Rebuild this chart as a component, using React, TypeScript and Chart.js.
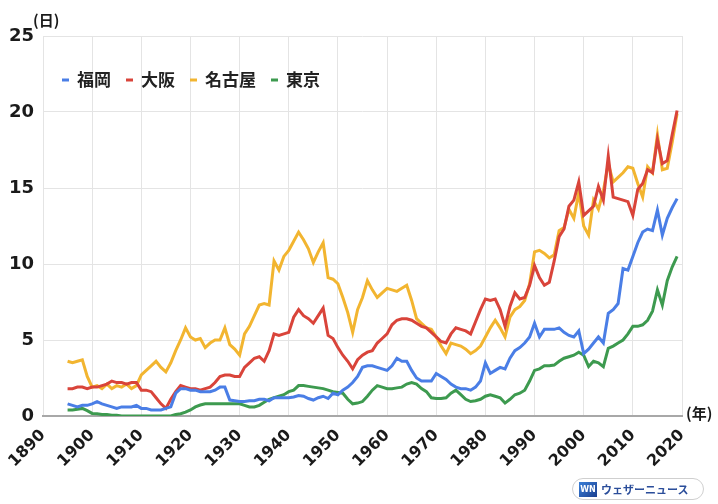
import React, { useEffect, useRef } from "react";
import { Chart, registerables } from "chart.js";

Chart.register(...registerables);

const FIRST_YEAR = 1895;
const X_TICKS = [1890, 1900, 1910, 1920, 1930, 1940, 1950, 1960, 1970, 1980, 1990, 2000, 2010, 2020];
const Y_TICKS = [0, 5, 10, 15, 20, 25];
const CITY_LABELS = ["福岡", "大阪", "名古屋", "東京"];

// 1895 .. 2019
const FUKUOKA = [
  0.8, 0.7, 0.6, 0.7, 0.7,
  0.8, 0.95, 0.8, 0.7, 0.6, 0.5, 0.6, 0.6, 0.6, 0.7,
  0.5, 0.5, 0.4, 0.4, 0.4, 0.5, 0.6, 1.5, 1.8, 1.8,
  1.7, 1.7, 1.6, 1.6, 1.6, 1.7, 1.9, 1.9, 1.05, 1.0,
  0.95, 0.95, 1.0, 1.0, 1.1, 1.1, 1.0, 1.2, 1.2, 1.2,
  1.2, 1.25, 1.35, 1.3, 1.15, 1.05, 1.2, 1.3, 1.15, 1.5,
  1.4, 1.7, 1.9, 2.2, 2.6, 3.2, 3.3, 3.3, 3.2, 3.1,
  3.0, 3.3, 3.8, 3.6, 3.6, 3.0, 2.5, 2.3, 2.3, 2.3,
  2.8, 2.6, 2.4, 2.1, 1.9, 1.8, 1.8, 1.7, 1.9, 2.3,
  3.5, 2.8, 3.0, 3.2, 3.1, 3.8, 4.3, 4.5, 4.8, 5.2,
  6.1, 5.2, 5.7, 5.7, 5.7, 5.8, 5.5, 5.3, 5.2, 5.6,
  4.1, 4.4, 4.8, 5.2, 4.8, 6.75, 7.0, 7.4, 9.7, 9.6,
  10.5, 11.4, 12.1, 12.3, 12.2, 13.55, 11.9, 13.0, 13.7, 14.3,
];

const OSAKA = [
  1.8, 1.8, 1.9, 1.9, 1.8,
  1.9, 1.9, 2.0, 2.1, 2.3, 2.2, 2.2, 2.1, 2.2, 2.2,
  1.7, 1.7, 1.6, 1.2, 0.8, 0.5, 1.1, 1.6, 2.0, 1.9,
  1.8, 1.8, 1.7, 1.8, 1.9, 2.2, 2.6, 2.7, 2.7, 2.6,
  2.6, 3.2, 3.5, 3.8, 3.9, 3.6, 4.3, 5.4, 5.3, 5.4,
  5.5, 6.5, 7.0, 6.6, 6.4, 6.1, 6.6, 7.1, 5.3, 5.1,
  4.5, 4.0, 3.6, 3.1, 3.7, 4.0, 4.2, 4.3, 4.8, 5.1,
  5.4, 6.0, 6.3, 6.4, 6.4, 6.3, 6.1, 5.9, 5.8, 5.5,
  5.2, 4.9, 4.8, 5.4, 5.8, 5.7, 5.6, 5.4, 6.2, 7.0,
  7.7, 7.6, 7.7, 7.0, 5.9, 7.2, 8.1, 7.7, 7.8, 8.6,
  9.9, 9.1, 8.6, 8.8, 10.2, 11.8, 12.3, 13.8, 14.2, 15.4,
  13.2, 13.5, 13.8, 15.1, 14.2, 17.1, 14.4, 14.3, 14.2, 14.1,
  13.2, 14.9, 15.3, 16.2, 16.0, 18.2, 16.6, 16.8, 18.5, 20.1,
];

const NAGOYA = [
  3.6, 3.5, 3.6, 3.7, 2.6,
  1.9, 2.0, 1.8, 2.1, 1.8, 2.0, 1.9, 2.1, 1.8, 2.0,
  2.7, 3.0, 3.3, 3.6, 3.2, 2.9, 3.5, 4.3, 5.0, 5.8,
  5.2, 5.0, 5.1, 4.5, 4.8, 5.0, 5.0, 5.8, 4.7, 4.4,
  4.0, 5.4, 5.9, 6.6, 7.3, 7.4, 7.3, 10.2, 9.6, 10.5,
  10.9, 11.5, 12.1, 11.6, 11.0, 10.1, 10.8, 11.4, 9.1, 9.0,
  8.7, 7.8, 6.8, 5.5, 7.0, 7.8, 8.9, 8.3, 7.8, 8.1,
  8.4, 8.3, 8.2, 8.4, 8.6, 7.6, 6.4, 6.1, 5.8, 5.7,
  5.2, 4.6, 4.1, 4.8, 4.7, 4.6, 4.4, 4.1, 4.3, 4.6,
  5.2, 5.8, 6.3, 5.8, 5.2, 6.5, 7.0, 7.2, 7.6, 8.7,
  10.8, 10.9, 10.7, 10.4, 10.6, 12.2, 12.4, 13.6, 13.0, 14.7,
  12.5, 11.9, 14.2, 13.6, 14.8, 16.6, 15.4, 15.7, 16.0, 16.4,
  16.3, 15.3, 14.4, 16.4, 16.0, 18.5, 16.2, 16.3, 18.0, 19.9,
];

const TOKYO = [
  0.4, 0.4, 0.45, 0.5, 0.35,
  0.17, 0.15, 0.1, 0.1, 0.05, 0.05, 0.0, 0.0, 0.0, 0.0,
  0.0, 0.0, 0.0, 0.0, 0.0, 0.0, 0.0, 0.1, 0.15, 0.25,
  0.4, 0.6, 0.72, 0.8, 0.8, 0.8, 0.8, 0.8, 0.8, 0.8,
  0.8, 0.7, 0.6, 0.6, 0.7, 0.9, 1.1, 1.2, 1.3, 1.4,
  1.6, 1.7, 2.0, 2.0, 1.95, 1.9, 1.85, 1.8, 1.7, 1.6,
  1.55, 1.5, 1.1, 0.8, 0.85, 0.95, 1.3, 1.7, 2.0, 1.9,
  1.8, 1.8, 1.85, 1.9, 2.1, 2.2, 2.1, 1.8, 1.6, 1.2,
  1.15, 1.15, 1.2, 1.5, 1.7, 1.4, 1.1, 0.95, 1.0, 1.1,
  1.3, 1.4, 1.3, 1.2, 0.85, 1.1, 1.4, 1.5, 1.7, 2.3,
  3.0, 3.1, 3.3, 3.3, 3.35, 3.6, 3.8, 3.9, 4.0, 4.2,
  4.0, 3.25, 3.6, 3.5, 3.25, 4.45, 4.6, 4.8, 5.0, 5.4,
  5.9, 5.9, 6.0, 6.3, 6.9, 8.3, 7.3, 8.9, 9.8, 10.5,
];

const SERIES = [FUKUOKA, OSAKA, NAGOYA, TOKYO];
const COLORS = ["#4a7ee6", "#d9443a", "#f2b530", "#3d9a4f"];

const CJK = '"Noto Sans CJK JP", "Noto Sans", sans-serif';
const NUM = '"DejaVu Sans", sans-serif';

const extrasPlugin = {
  id: "extras",
  afterDraw(chart: any) {
    const ctx = chart.ctx as CanvasRenderingContext2D;
    ctx.save();
    ctx.fillStyle = "#1a1a1a";
    ctx.textBaseline = "middle";
    ctx.textAlign = "left";
    ctx.font = `bold 15px ${CJK}`;
    ctx.fillText("(日)", 33, 20);
    ctx.fillText("(年)", 686, 413);

    let x = 62;
    const y = 80;
    ctx.font = `bold 17px ${CJK}`;
    chart.data.datasets.forEach((ds: any) => {
      ctx.strokeStyle = ds.borderColor;
      ctx.lineWidth = 3;
      ctx.beginPath();
      ctx.moveTo(x, y);
      ctx.lineTo(x + 7, y);
      ctx.stroke();
      x += 15;
      ctx.fillStyle = "#222";
      ctx.fillText(ds.label, x, y);
      x += ctx.measureText(ds.label).width + 15;
    });
    ctx.restore();
  },
};

export default function App() {
  const ref = useRef<HTMLCanvasElement | null>(null);

  useEffect(() => {
    if (!ref.current) return;
    const datasets = SERIES.map((vals, i) => ({
      label: CITY_LABELS[i],
      data: vals.map((v, j) => ({ x: FIRST_YEAR + j, y: v })),
      borderColor: COLORS[i],
      backgroundColor: COLORS[i],
      borderWidth: 3,
      pointRadius: 0,
      tension: 0,
      fill: false,
    }));
    const chart = new Chart(ref.current, {
      type: "line",
      data: { datasets },
      options: {
        animation: false,
        responsive: false,
        devicePixelRatio: 1,
        layout: { padding: { top: 36, right: 36, left: 0, bottom: 0 } },
        plugins: { legend: { display: false }, tooltip: { enabled: false } },
        scales: {
          x: {
            type: "linear",
            min: 1890,
            max: 2020,
            afterFit: (s: any) => { s.height = 88; },
            afterBuildTicks: (s: any) => { s.ticks = X_TICKS.map((v) => ({ value: v })); },
            ticks: {
              autoSkip: false,
              maxRotation: 45,
              minRotation: 45,
              padding: 10,
              color: "#1a1a1a",
              font: { family: NUM, size: 16, weight: "bold" },
              callback: (v: any) => String(v),
            },
            grid: { color: "#e4e4e4", lineWidth: 1, drawTicks: false },
            border: { color: "#a8a8a8", width: 2 },
          },
          y: {
            min: 0,
            max: 25,
            afterFit: (s: any) => { s.width = 43; },
            afterBuildTicks: (s: any) => { s.ticks = Y_TICKS.map((v) => ({ value: v })); },
            ticks: {
              padding: 9,
              color: "#1a1a1a",
              font: { family: NUM, size: 18, weight: "bold" },
            },
            grid: { color: "#e4e4e4", lineWidth: 1, drawTicks: false },
            border: { display: false },
          },
        },
      },
      plugins: [extrasPlugin],
    });
    return () => chart.destroy();
  }, []);

  return (
    <div style={{ position: "absolute", left: 0, top: 0, width: 718, height: 504, background: "#fff" }}>
      <canvas ref={ref} width={718} height={504} style={{ display: "block" }} />
      <div
        style={{
          position: "absolute",
          left: 572,
          top: 478,
          width: 132,
          height: 22,
          border: "1px solid #cfcfcf",
          borderRadius: 12,
          background: "#fff",
          display: "flex",
          alignItems: "center",
          paddingLeft: 6,
          boxSizing: "border-box",
          fontFamily: CJK,
        }}
      >
        <div
          style={{
            width: 18,
            height: 15,
            background: "linear-gradient(135deg,#3a7fd8,#1b3f8f)",
            color: "#fff",
            fontSize: 8,
            fontWeight: "bold",
            lineHeight: "15px",
            textAlign: "center",
            fontFamily: NUM,
          }}
        >
          WN
        </div>
        <span style={{ marginLeft: 4, fontSize: 11, fontWeight: "bold", color: "#2a4d9a" }}>ウェザーニュース</span>
      </div>
    </div>
  );
}
